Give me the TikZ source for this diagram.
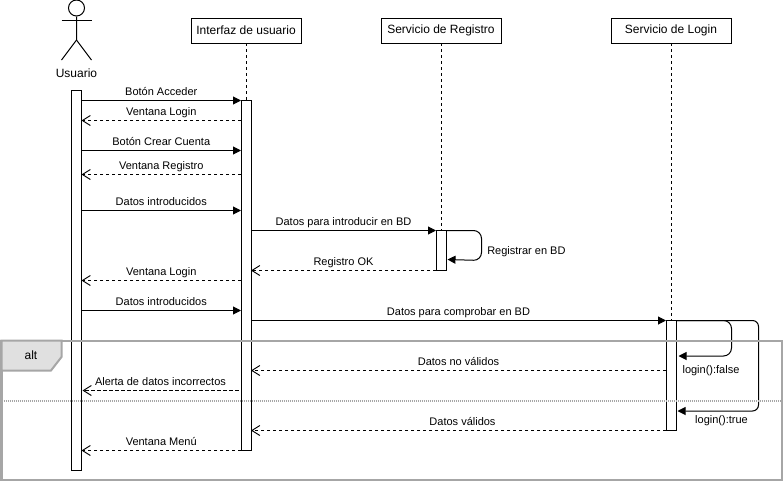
\documentclass[tikz,border=0pt]{standalone}
\usepackage{fontspec}
\setmainfont{Liberation Sans}
\usetikzlibrary{arrows.meta,positioning}

\definecolor{framegray}{HTML}{A6A6A6}
\definecolor{tabgray}{HTML}{E0E0E0}

\tikzset{
  actorbox/.style={draw,line width=.75pt,outer sep=0pt,minimum width=82.5pt,minimum height=18.75pt,inner sep=0pt,font=\fontsize{9}{11}\selectfont},
  bar/.style={draw,fill=white,line width=.75pt,outer sep=0pt,minimum width=7.5pt,inner sep=0pt,anchor=north},
  life/.style={dash pattern=on 2.25pt off 2.25pt,line width=.75pt},
  msg/.style={-{Triangle[length=6pt,width=6pt]},line width=.75pt},
  back/.style={-{Straight Barb[length=6pt,width=7.5pt]},dash pattern=on 2.6pt off 1.9pt,line width=.7pt},
  loopback/.style={-{Triangle[length=6pt,width=6pt]},line width=.75pt,rounded corners=6pt},
  lbl/.style={font=\fontsize{8.25}{10}\selectfont,inner sep=0pt,text height=6pt,text depth=2pt},
  toplbl/.style={lbl,above=1.4pt,midway}
}

\begin{document}
\begin{tikzpicture}[x=.75pt,y=-.75pt]

  \useasboundingbox (0,0) rectangle (783,482);

  % actor
  \node[draw,circle,line width=.75pt,minimum size=12pt,inner sep=0pt] (head) at (76.5,8) {};
  \coordinate (neck) at (76.5,20);
  \coordinate (hip) at (76.5,40);
  \coordinate (handL) at (61.5,20);
  \coordinate (handR) at (91.5,20);
  \coordinate (footL) at (61.5,60);
  \coordinate (footR) at (91.5,60);
  \draw[line width=.75pt] (head) -- (hip) -- (footL);
  \draw[line width=.75pt] (hip) -- (footR);
  \draw[line width=.75pt] (handL) -- (handR);
  \node[font=\fontsize{9}{11}\selectfont,inner sep=0pt] (usuario) at (76.5,73.5) {Usuario};

  % lifelines
  \node[actorbox] (interfaz) at (246,30.5) {Interfaz de usuario};
  \node[actorbox,minimum width=90pt] (registro) at (441,30.5) {Servicio de Registro};
  \node[actorbox,minimum width=90pt] (login) at (671,30.5) {Servicio de Login};

  \node[bar,minimum height=285pt] (barU) at (76.5,90.5) {};
  \node[bar,minimum height=262.5pt] (barI) at (246,100.5) {};
  \node[bar,minimum height=30pt] (barR) at (441,230.5) {};
  \node[bar,minimum height=82.5pt] (barL) at (671,320.5) {};

  \draw[life] (interfaz) -- (barI);
  \draw[life] (registro) -- (barR);
  \draw[life] (login) -- (barL);

  \foreach \y in {100,120,150,174,210,280,310,450}{
    \coordinate (u\y) at (81.5,\y+.5);
    \coordinate (i\y) at (241,\y+.5);
  }
  \foreach \y in {230,270,320,370,430}{
    \coordinate (j\y) at (251,\y+.5);
    \coordinate (r\y) at (436,\y+.5);
    \coordinate (l\y) at (666,\y+.5);
  }
  \coordinate (alertaA) at (238.5,390.5);
  \coordinate (alertaB) at (82.5,390.5);

  % messages
  \path (u100) edge[msg] node[toplbl] {Botón Acceder} (i100);
  \path (i120) edge[back] node[toplbl] {Ventana Login} (u120);
  \path (u150) edge[msg] node[toplbl] {Botón Crear Cuenta} (i150);
  \path (i174) edge[back] node[toplbl] {Ventana Registro} (u174);
  \path (u210) edge[msg] node[toplbl] {Datos introducidos} (i210);
  \path (j230) edge[msg] node[toplbl] {Datos para introducir en BD} (r230);
  \path (r270) edge[back] node[toplbl] {Registro OK} (j270);
  \path (i280) edge[back] node[toplbl] {Ventana Login} (u280);
  \path (u310) edge[msg] node[toplbl] {Datos introducidos} (i310);
  \path (j320) edge[msg] node[toplbl] {Datos para comprobar en BD} (l320);
  \path (l370) edge[back] node[toplbl] {Datos no válidos} (j370);
  \path (alertaA) edge[back] node[toplbl] {Alerta de datos incorrectos} (alertaB);
  \path (l430) edge[back] node[toplbl,xshift=3pt] {Datos válidos} (j430);
  \path (i450) edge[back] node[toplbl] {Ventana Menú} (u450);

  % self calls
  \coordinate (regA) at (446,230.5);
  \coordinate (regB) at (481.5,230.5);
  \coordinate (regC) at (481.5,260.5);
  \coordinate (regD) at (447.5,259.5);
  \draw[loopback] (regA) -- (regB) -- (regC) -- (regD);
  \node[lbl,anchor=west] (lblReg) at (487,251.5) {Registrar en BD};

  \coordinate (falA) at (676,320.5);
  \coordinate (falB) at (731.5,320.5);
  \coordinate (falC) at (731.5,356);
  \coordinate (falD) at (678.5,356);
  \draw[loopback] (falA) -- (falB) -- (falC) -- (falD);
  \node[lbl] (lblFalse) at (711,370.5) {login():false};

  \coordinate (truA) at (676,320.5);
  \coordinate (truB) at (758.5,320.5);
  \coordinate (truC) at (758.5,411);
  \coordinate (truD) at (677.5,411);
  \draw[loopback,rounded corners=4.5pt] (truA) -- (truB) -- (truC) -- (truD);
  \node[lbl] (lblTrue) at (721.5,420.5) {login():true};

  % alt frame
  \node[draw=framegray,line width=1.5pt,outer sep=0pt,minimum width=585pt,minimum height=104.25pt,inner sep=0pt] (frame) at (391.5,410.5) {};
  \coordinate (tabA) at (1.5,340.5);
  \coordinate (tabB) at (61.5,340.5);
  \coordinate (tabC) at (61.5,357);
  \coordinate (tabD) at (51,370.5);
  \coordinate (tabE) at (1.5,370.5);
  \draw[draw=framegray,fill=tabgray,line width=1.5pt] (tabA) -- (tabB) -- (tabC) -- (tabD) -- (tabE) -- cycle;
  \node[font=\fontsize{9}{11}\selectfont,inner sep=0pt] (alt) at (31,355.5) {alt};
  \coordinate (sepL) at (1.5,400.5);
  \coordinate (sepR) at (781.5,400.5);
  \draw[framegray,line width=1.5pt,dash pattern=on .75pt off .75pt] (sepL) -- (sepR);

\end{tikzpicture}
\end{document}
